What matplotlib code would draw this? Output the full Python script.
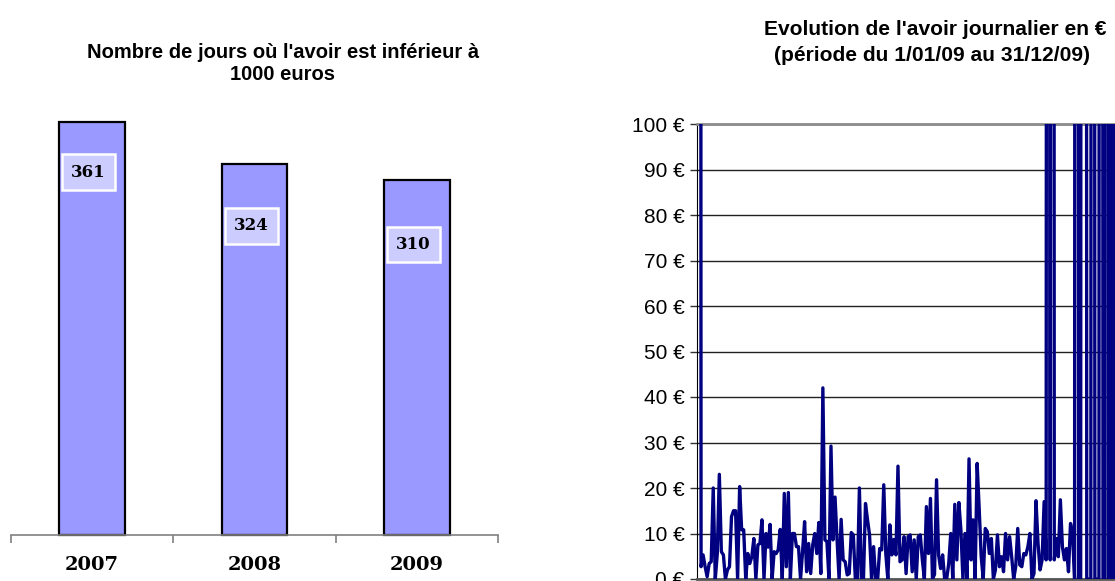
import matplotlib
matplotlib.use("Agg")
import matplotlib.pyplot as plt
import numpy as np

# ---------------- data ----------------
years = ["2007", "2008", "2009"]
days_below_1000 = [361, 324, 310]

HIGH = 1200  # values far above the 100 EUR axis limit (clipped in the chart)
daily_balance = [
    HIGH, 2.7, 5.3, 2.7, 0.5, 3.4, 3.8, 20, 0, 5.6, 23, 6, 5.3, 0, 2, 2.7,
    13.7, 15, 15, 0, 20.3, 10.8, 10.8, 0, 5.6, 3.4, 4.9, 8.9, 0, 7.5, 7.8,
    13, 0, 10, 7, 12, 0, 6, 5.6, 6.4, 10.9, 0, 18.8, 2.7, 19, 0, 10, 10,
    7.1, 7.1, 0, 6, 12.6, 1.6, 7.8, 1.2, 7.5, 10, 5.6, 12.4, 1.2, 42, 8.6,
    8.2, 0, 29.2, 8.6, 18, 8.6, 0, 13.1, 4.2, 3.8, 0.9, 1.2, 10.2, 9.7, 0,
    0, 20, 0, 0, 16.6, 13, 9.7, 0, 7.1, 0, 0, 6.7, 6.4, 20.7, 5.6, 0, 11.9,
    5.3, 8.7, 5.3, 24.8, 3.8, 4.2, 9.3, 1.2, 9.3, 9.7, 1.6, 8.6, 0, 9.3,
    9.7, 4.2, 0, 15.9, 5.6, 17.7, 0, 1, 21.8, 5.3, 2.3, 5.3, 0, 0, 3.4, 10,
    0, 16.4, 4.2, 16.8, 10.8, 0, 10, 0, 26.4, 4.2, 13, 0, 25.4, 15.5, 4.9,
    0, 11.1, 10.4, 5.6, 8.9, 0, 2, 9.7, 2.7, 4.9, 1.6, 10, 4.2, 9.3, 4.9,
    0, 2.7, 11.1, 3.1, 2.7, 5.6, 5.3, 7.1, 10, 0, 1.2, 17.2, 7.8, 2, 4.2,
    17, 4.2, HIGH, 4.2, HIGH, 4.2, 8.9, 4.9, 17.4, 7.1, 4.2, 6.7, 1.6, 12.2,
    10, 0, HIGH, 0, 0, HIGH, HIGH, 0, 0, 0, HIGH, 0, 0, 0, HIGH, 0, 0, HIGH,
    0, HIGH, 0, HIGH, 0,
]
euro_ticks = list(range(0, 101, 10))

# label placement (data units below the bar top)
label_drop = [44, 54, 56]

# ---------------- figure ----------------
W, H = 1115, 581
fig = plt.figure(figsize=(W / 100, H / 100), dpi=100)


def px_axes(left, top, right, bottom):
    return fig.add_axes([left / W, 1 - bottom / H, (right - left) / W, (bottom - top) / H])


SANS = ["Liberation Sans", "DejaVu Sans"]
SERIF = ["DejaVu Serif"]

# ---------------- left: bar chart ----------------
ax1 = px_axes(10.7, 121.7, 498, 535)
xpos = np.arange(len(years))
bars = ax1.bar(xpos, days_below_1000, width=0.404, color="#9999FF",
               edgecolor="black", linewidth=1.6, zorder=2)
for b in bars:
    b.set_clip_on(False)
ax1.set_xlim(-0.5, len(years) - 0.5)
ax1.set_ylim(0, max(days_below_1000))
for s in ("top", "right", "left"):
    ax1.spines[s].set_visible(False)
ax1.spines["bottom"].set_color("#808080")
ax1.spines["bottom"].set_linewidth(1.2)
ax1.set_yticks([])
ax1.set_xticks(np.arange(len(years) + 1) - 0.5)
ax1.set_xticklabels([])
ax1.tick_params(axis="x", which="major", direction="out", length=6,
                width=1.2, color="#808080")
ax1.set_xticks(xpos, minor=True)
ax1.set_xticklabels(years, minor=True, family=SERIF, fontweight="bold",
                    fontsize=14)
ax1.tick_params(axis="x", which="minor", length=0, pad=15)

for i, (v, d) in enumerate(zip(days_below_1000, label_drop)):
    ax1.text(i - 0.02, v - d, str(v), ha="center", va="center",
             family=SERIF, fontweight="bold", fontsize=12, zorder=3,
             bbox=dict(boxstyle="square,pad=0.55", fc="#CCCCFF", ec="white",
                       lw=1.8))

fig.text(283 / W, 1 - 58 / H, "Nombre de jours où l'avoir est inférieur à",
         ha="center", va="baseline", family=SANS, fontweight="bold",
         fontsize=14.5)
fig.text(283 / W, 1 - 80 / H, "1000 euros", ha="center", va="baseline",
         family=SANS, fontweight="bold", fontsize=14.5)

# ---------------- right: daily balance line ----------------
n = len(daily_balance)
step = 2.03
ax2 = px_axes(697, 124, 697 + (n + 1) * step, 579)
ax2.plot(np.arange(n), daily_balance, color="#000080", lw=2.4, zorder=3)
ax2.set_xlim(-1, n)
ax2.set_ylim(0, 100)
ax2.set_yticks(euro_ticks)
ax2.set_yticklabels([f"{t} €" for t in euro_ticks], family=SANS, fontsize=15)
ax2.tick_params(axis="y", direction="out", length=5, width=1, color="#333333",
                pad=4)
ax2.set_xticks([])
ax2.yaxis.grid(True, color="#222222", lw=1)
ax2.set_axisbelow(True)
ax2.spines["top"].set_color("#8c8c8c")
ax2.spines["top"].set_linewidth(2)
ax2.spines["bottom"].set_color("#555555")
ax2.spines["bottom"].set_linewidth(2)
ax2.spines["left"].set_color("#000000")
ax2.spines["right"].set_visible(False)

fig.text(935 / W, 1 - 35 / H, "Evolution de l'avoir journalier en €",
         ha="center", va="baseline", family=SANS, fontweight="bold",
         fontsize=15.1)
fig.text(932 / W, 1 - 61 / H, "(période du 1/01/09 au 31/12/09)",
         ha="center", va="baseline", family=SANS, fontweight="bold",
         fontsize=15.1)

fig.savefig("out.png", dpi=100)
